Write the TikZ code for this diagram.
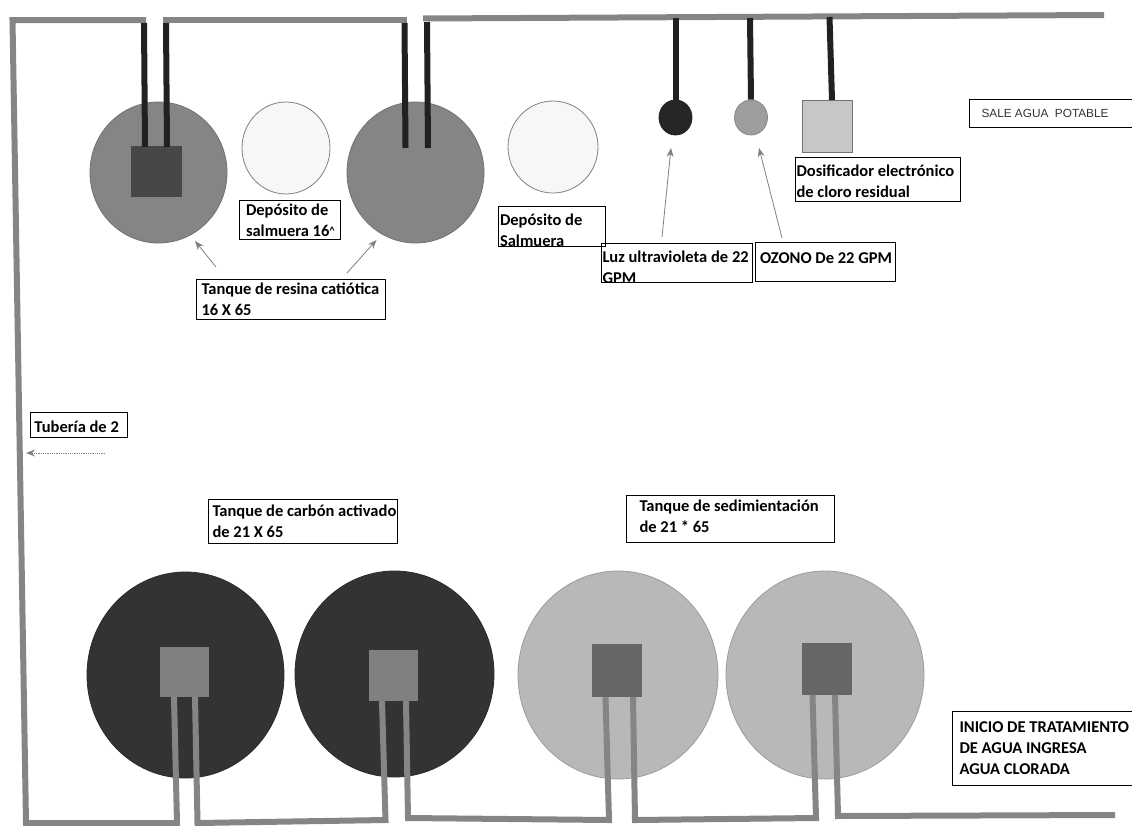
\documentclass[tikz,border=0pt]{standalone}
\usepackage{fontspec}
\setmainfont{Carlito}[BoldFont={Carlito Bold}]
\newfontfamily\arialfont{Liberation Sans}
\usetikzlibrary{shapes.geometric,arrows.meta}
\newcommand{\labtxt}[5]{\parbox[c][#2pt][t]{#1pt}{\fontsize{16.5}{21}\selectfont\bfseries\setlength{\leftskip}{#3pt}\vspace*{#4pt}\rule{0pt}{11.5pt}#5}}
\definecolor{pipegray}{gray}{0.52}
\definecolor{pipedark}{gray}{0.13}
\definecolor{leadgray}{gray}{0.5}
\definecolor{resin}{gray}{0.52}
\definecolor{carbon}{gray}{0.2}
\definecolor{sedim}{gray}{0.72}
\definecolor{brine}{gray}{0.97}
\definecolor{uvdark}{gray}{0.15}
\definecolor{ozgray}{gray}{0.62}
\tikzset{
 tank/.style={ellipse,inner sep=0pt,draw=#1!85!black,line width=.8pt,fill=#1},
 sq/.style={rectangle,inner sep=0pt,fill=#1},
 labelbox/.style={rectangle,draw=black,line width=1pt,inner sep=0pt,fill=none},
 pipe/.style={draw=pipegray,line width=6pt,line cap=butt,line join=miter},
 darkpipe/.style={draw=pipedark,line width=6pt},
 leader/.style={draw=leadgray,line width=.8pt,-{Stealth[length=9pt,width=7pt,fill=leadgray]}}
}
\begin{document}
\begin{tikzpicture}[x=1pt,y=-1pt]
\useasboundingbox (0,0) rectangle (1132,825);
% tanks
\node[tank=resin,minimum width=137pt,minimum height=141pt] (res1) at (158.5,172.5) {};
\node[sq=black!72,minimum width=51pt,minimum height=51pt] (res1sq) at (156.5,171.5) {};
\node[tank=brine,draw=gray,minimum width=88pt,minimum height=92pt] (brine1) at (286,148) {};
\node[tank=resin,minimum width=137pt,minimum height=141pt] (res2) at (415.5,172.5) {};
\node[tank=brine,draw=gray,minimum width=90pt,minimum height=92pt] (brine2) at (553,147) {};
\node[tank=carbon,minimum width=197pt,minimum height=206pt] (car1) at (185.5,675) {};
\node[tank=carbon,minimum width=199pt,minimum height=206pt] (car2) at (394.5,674) {};
\node[tank=sedim,minimum width=200pt,minimum height=208pt] (sed1) at (618,675) {};
\node[tank=sedim,minimum width=198pt,minimum height=208pt] (sed2) at (825,675) {};
\node[sq=black!50,minimum width=49pt,minimum height=50pt] (car1sq) at (184.5,672) {};
\node[sq=black!50,minimum width=49pt,minimum height=51pt] (car2sq) at (393.5,675.5) {};
\node[sq=black!60,minimum width=50pt,minimum height=53pt] (sed1sq) at (617,670.5) {};
\node[sq=black!60,minimum width=50pt,minimum height=52pt] (sed2sq) at (826.5,669) {};
\node[tank=uvdark,minimum width=33pt,minimum height=35pt] (uv) at (675.5,117.5) {};
\node[tank=ozgray,minimum width=33pt,minimum height=35pt] (oz) at (751,117.5) {};
\node[sq=black!22,draw=black!55,minimum width=50pt,minimum height=52pt] (dos) at (827,126) {};
% top pipe junctions
\coordinate (tl) at (12.5,20);
\coordinate (bl) at (26,823);
\coordinate (a1) at (146,20);
\coordinate (a2) at (163,19.5);
\coordinate (a3) at (407,19.5);
\coordinate (a4) at (423,18.5);
\coordinate (a5) at (1104,15);
% bottom junctions
\coordinate (b1) at (177,823);
\coordinate (c1) at (174,697);
\coordinate (c2) at (195,697);
\coordinate (b2) at (197.5,823);
\coordinate (b3) at (385.5,820);
\coordinate (c3) at (382,701);
\coordinate (c4) at (406,701);
\coordinate (b4) at (408,818);
\coordinate (b5) at (609,820);
\coordinate (c5) at (605.5,697);
\coordinate (c6) at (633,697);
\coordinate (b6) at (635,820);
\coordinate (b7) at (816,818);
\coordinate (c7) at (812.5,695);
\coordinate (c8) at (835,695);
\coordinate (b8) at (838,816);
\coordinate (b9) at (1115,815);
% grey pipe
\draw[pipe] (a1) -- (tl) -- (bl) -- (b1) -- (c1);
\draw[pipe] (c2) -- (b2) -- (b3) -- (c3);
\draw[pipe] (c4) -- (b4) -- (b5) -- (c5);
\draw[pipe] (c6) -- (b6) -- (b7) -- (c7);
\draw[pipe] (c8) -- (b8) -- (b9);
\draw[pipe] (a2) -- (a3);
\draw[pipe] (a4) -- (a5);
% dark pipes
\coordinate (d1) at (144,23); \coordinate (e1) at (145,147);
\coordinate (d2) at (166,23); \coordinate (e2) at (167,147);
\coordinate (d3) at (404.5,23); \coordinate (e3) at (405.5,148);
\coordinate (d4) at (427,22); \coordinate (e4) at (428,148);
\coordinate (d5) at (675.5,18); \coordinate (d6) at (750,18); \coordinate (d7) at (829.5,17);
\coordinate (e7) at (832,100);
\draw[darkpipe] (d1) -- (e1);
\draw[darkpipe] (d2) -- (e2);
\draw[darkpipe] (d3) -- (e3);
\draw[darkpipe] (d4) -- (e4);
\draw[darkpipe] (d5) -- (uv.north);
\draw[darkpipe] (d6) -- (oz.north);
\draw[darkpipe] (d7) -- (e7);
% labels
\node[labelbox,anchor=north west] (l1) at (239,200) {\labtxt{101}{39}{6.5}{3}{Depósito de\\salmuera 16\raisebox{2pt}{\fontsize{11}{11}\selectfont\textasciicircum}}};
\node[labelbox,anchor=north west] (l2) at (196,279) {\labtxt{189}{40}{5}{3}{Tanque de resina catiótica\\16 X 65}};
\node[labelbox,anchor=north west] (l3) at (497.5,206) {\labtxt{107.5}{40}{2}{7}{Depósito de\\Salmuera}};
\node[labelbox,anchor=north west] (l4) at (795,157) {\labtxt{164.5}{44}{1}{7}{Dosificador electrónico\\de cloro residual}};
\node[labelbox,anchor=north west] (l5) at (601,243) {\labtxt{151}{39}{1}{7}{Luz ultravioleta de 22\\GPM}};
\node[labelbox,anchor=north west] (l6) at (754.5,242) {\labtxt{140.5}{39}{5}{9}{OZONO De 22 GPM}};
\node[labelbox,anchor=north west] (l7) at (30,412) {\labtxt{97}{25}{4}{8}{Tubería de 2}};
\node[labelbox,anchor=north west] (l8) at (207.5,499) {\labtxt{189.5}{44}{4.5}{5}{Tanque de carbón activado\\de 21 X 65}};
\node[labelbox,anchor=north west] (l9) at (626,495) {\labtxt{208}{47}{13}{4}{Tanque de sedimientación\\de 21 * 65}};
\node[labelbox,anchor=north west] (l10) at (952,711) {\labtxt{190}{74}{7}{9}{INICIO DE TRATAMIENTO\\DE AGUA INGRESA\\AGUA CLORADA}};
\node[labelbox,anchor=north west,minimum width=175pt,minimum height=28pt,align=left,font=\arialfont\fontsize{11.8}{13}\selectfont,text=black!80,inner xsep=12pt] (l11) at (969,99) {SALE AGUA~~POTABLE\hspace{24pt}};
% leaders
\coordinate (f1) at (216,267); \coordinate (g1) at (195,241);
\coordinate (f2) at (347,273); \coordinate (g2) at (376.5,240);
\coordinate (f3) at (662,237); \coordinate (g3) at (671,148);
\coordinate (f4) at (782,238); \coordinate (g4) at (759,148);
\coordinate (f5) at (105,453); \coordinate (g5) at (26,453);
\draw[leader] (f1) -- (g1);
\draw[leader] (f2) -- (g2);
\draw[leader] (f3) -- (g3);
\draw[leader] (f4) -- (g4);
\draw[leader,densely dotted,-{Stealth[length=9pt,width=7pt,fill=leadgray]}] (f5) -- (g5);
\end{tikzpicture}
\end{document}
